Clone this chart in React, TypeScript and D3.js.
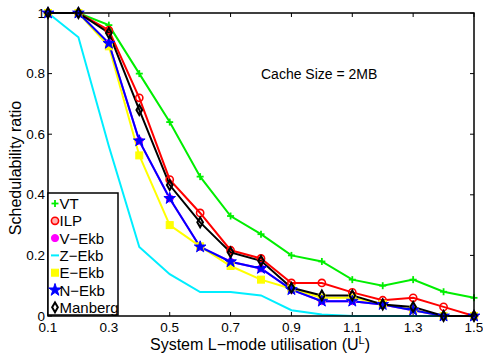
import React from "react";
import * as d3 from "d3";

const xValues = [0.1, 0.2, 0.3, 0.4, 0.5, 0.6, 0.7, 0.8, 0.9, 1.0, 1.1, 1.2, 1.3, 1.4, 1.5];
const vt = [1, 1, 0.96, 0.8, 0.64, 0.46, 0.33, 0.27, 0.2, 0.18, 0.12, 0.1, 0.12, 0.08, 0.06];
const ilp = [1, 1, 0.943, 0.72, 0.45, 0.34, 0.217, 0.19, 0.109, 0.109, 0.078, 0.052, 0.06, 0.03, 0];
const vEkb = [1, 1, 0.9, 0.578, 0.388, 0.228, 0.179, 0.157, 0.087, 0.049, 0.049, 0.038, 0.019, 0, 0];
const zEkb = [1, 0.92, 0.56, 0.228, 0.138, 0.079, 0.079, 0.068, 0.019, 0.005, 0, 0, 0, 0, 0];
const eEkb = [1, 1, 0.89, 0.53, 0.3, 0.23, 0.165, 0.12, 0.09, 0.06, 0.06, 0.04, 0.02, 0, 0];
const nEkb = [1, 1, 0.9, 0.578, 0.388, 0.228, 0.179, 0.157, 0.087, 0.049, 0.049, 0.038, 0.019, 0, 0];
const manberg = [1, 1, 0.934, 0.68, 0.432, 0.309, 0.21, 0.182, 0.093, 0.068, 0.068, 0.038, 0.03, 0, 0];

const xTicks = [0.1, 0.3, 0.5, 0.7, 0.9, 1.1, 1.3, 1.5];
const yTicks = [0, 0.2, 0.4, 0.6, 0.8, 1];
const yTickLabels = ["0", "0.2", "0.4", "0.6", "0.8", "1"];

type Marker = "plus" | "circle" | "dot" | "none" | "square" | "star" | "diamond";
const series: { name: string; values: number[]; color: string; marker: Marker }[] = [
  { name: "VT", values: vt, color: "#00ee00", marker: "plus" },
  { name: "ILP", values: ilp, color: "#ff0000", marker: "circle" },
  { name: "V\u2212Ekb", values: vEkb, color: "#ff00ff", marker: "dot" },
  { name: "Z\u2212Ekb", values: zEkb, color: "#00eeff", marker: "none" },
  { name: "E\u2212Ekb", values: eEkb, color: "#ffff00", marker: "square" },
  { name: "N\u2212Ekb", values: nEkb, color: "#0000ff", marker: "star" },
  { name: "Manberg", values: manberg, color: "#000000", marker: "diamond" },
];

const W = 483, H = 358;
const L = 48, R = 474, T = 13, B = 316;
const font = "'Liberation Sans', Arial, Helvetica, sans-serif";

function MarkerShape({ m, x, y, c, legend }: { m: Marker; x: number; y: number; c: string; legend?: boolean }) {
  switch (m) {
    case "plus":
      return (
        <g stroke={c} strokeWidth={1.8}>
          <line x1={x - 3.5} x2={x + 3.5} y1={y} y2={y} />
          <line x1={x} x2={x} y1={y - 3.5} y2={y + 3.5} />
        </g>
      );
    case "circle":
      return <circle cx={x} cy={y} r={3.6} fill={legend ? c : "none"} fillOpacity={legend ? 0.3 : 0} stroke={c} strokeWidth={1.6} />;
    case "dot":
      return <circle cx={x} cy={y} r={3.6} fill={c} stroke={c} strokeWidth={1} />;
    case "square":
      return <rect x={x - 3.5} y={y - 3.5} width={7} height={7} fill={c} stroke={c} strokeWidth={1} />;
    case "star":
      return <path d={d3.symbol().type(d3.symbolStar).size(legend ? 48 : 42)()!} transform={`translate(${x},${y})`} fill={c} stroke={c} strokeWidth={1} />;
    case "diamond":
      return <path d={d3.symbol().type(d3.symbolDiamond).size(28)()!} transform={`translate(${x},${y})`} fill="none" stroke={c} strokeWidth={2} />;
    case "none":
      return legend ? <line x1={x - 4} x2={x + 4} y1={y} y2={y} stroke={c} strokeWidth={2} /> : null;
  }
  return null;
}

export default function App() {
  const x = d3.scaleLinear().domain([0.1, 1.5]).range([L, R]);
  const y = d3.scaleLinear().domain([0, 1]).range([B, T]);
  const line = d3
    .line<number>()
    .x((_, i) => x(xValues[i]))
    .y((d) => y(d));

  const legendX = 48, legendY = 193, legendW = 70, legendH = 122;
  return (
    <svg width={W} height={H} style={{ position: "absolute", left: 0, top: 0, background: "#fff" }} fontFamily={font}>
      <rect x={0} y={0} width={W} height={H} fill="#fff" />
      <g stroke="#000" strokeWidth={1}>
        {xTicks.map((t) => (
          <g key={"xt" + t}>
            <line x1={x(t)} x2={x(t)} y1={B} y2={B - 4} />
            <line x1={x(t)} x2={x(t)} y1={T} y2={T + 4} />
          </g>
        ))}
        {yTicks.map((t) => (
          <g key={"yt" + t}>
            <line x1={L} x2={L + 4} y1={y(t)} y2={y(t)} />
            <line x1={R} x2={R - 4} y1={y(t)} y2={y(t)} />
          </g>
        ))}
      </g>
      <g fontSize={13.5} fill="#000">
        {xTicks.map((t) => (
          <text key={"xl" + t} x={x(t)} y={B + 16} textAnchor="middle">
            {t.toFixed(1)}
          </text>
        ))}
        {yTicks.map((t, i) => (
          <text key={"yl" + t} x={L - 3} y={y(t) + 4.5} textAnchor="end">
            {yTickLabels[i]}
          </text>
        ))}
      </g>
      {series.map((s) => (
        <path key={s.name} d={line(s.values)!} fill="none" stroke={s.color} strokeWidth={2} />
      ))}
      {series.map((s) => (
        <g key={s.name + "m"}>
          {s.values.map((v, i) => (
            <MarkerShape key={i} m={s.marker} x={x(xValues[i])} y={y(v)} c={s.color} />
          ))}
        </g>
      ))}
      <rect x={L} y={T} width={R - L} height={B - T} fill="none" stroke="#000" strokeWidth={1.5} />
      <text x={261} y={79} fontSize={14} fill="#000">Cache Size = 2MB</text>
      <rect x={legendX} y={legendY} width={legendW} height={legendH} fill="#fff" stroke="#000" strokeWidth={1.5} />
      {series.map((s, i) => {
        const cy = 203.5 + i * 17.3;
        return (
          <g key={s.name + "l"}>
            <MarkerShape m={s.marker} x={55} y={cy} c={s.color} legend />
            <text x={59.5} y={cy + 5.5} fontSize={15} fill="#000">{s.name}</text>
          </g>
        );
      })}
      <text x={260} y={350} fontSize={16} textAnchor="middle" fill="#000">
        System L{"\u2212"}mode utilisation (U<tspan dy={-6} fontSize={11}>L</tspan><tspan dy={6}>)</tspan>
      </text>
      <text transform={`translate(21,168) rotate(-90)`} fontSize={16} textAnchor="middle" fill="#000">
        Schedulability ratio
      </text>
    </svg>
  );
}
